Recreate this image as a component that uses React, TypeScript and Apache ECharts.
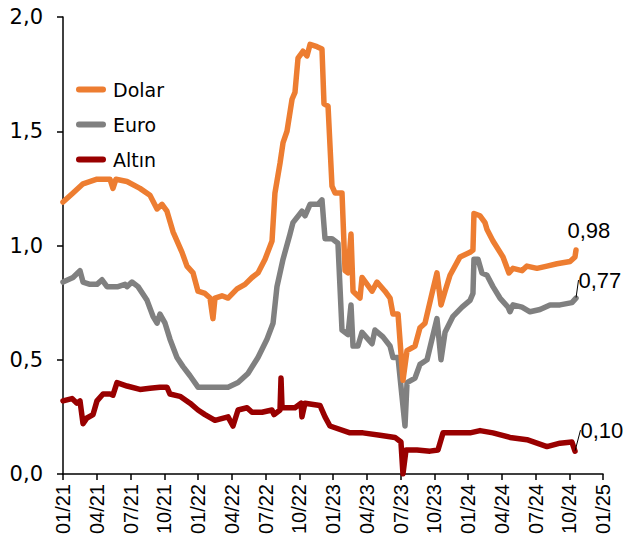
import React, { useEffect, useRef } from "react";
import * as echarts from "echarts";

// x values: months elapsed since 01/2021
const dolarT = [0, 0.89, 1.78, 3.02, 4.18, 4.44, 4.71, 5.69, 6.84, 7.73, 8.36, 8.8, 9.24, 9.78, 10.58, 11.02, 11.56, 12.0, 12.62, 13.07, 13.24, 13.33, 13.51, 14.13, 14.67, 15.47, 16.18, 16.8, 17.33, 17.96, 18.58, 18.84, 19.29, 19.56, 19.91, 20.36, 20.62, 20.89, 21.33, 21.69, 21.96, 22.58, 23.02, 23.2, 23.56, 23.91, 24.18, 24.8, 25.07, 25.33, 25.6, 25.78, 26.4, 26.58, 27.47, 27.91, 28.62, 29.07, 29.33, 29.78, 30.22, 30.58, 31.29, 31.73, 32.18, 32.8, 33.24, 33.6, 33.96, 34.4, 35.29, 36.18, 36.44, 36.53, 37.07, 37.51, 37.69, 38.22, 39.11, 39.64, 40.0, 40.8, 41.24, 42.13, 43.02, 43.91, 45.07, 45.51, 45.6];
const dolarV = [1.19, 1.23, 1.27, 1.29, 1.29, 1.25, 1.29, 1.28, 1.25, 1.22, 1.16, 1.18, 1.15, 1.06, 0.97, 0.91, 0.88, 0.8, 0.79, 0.77, 0.71, 0.68, 0.77, 0.78, 0.77, 0.81, 0.83, 0.86, 0.88, 0.94, 1.02, 1.23, 1.36, 1.45, 1.5, 1.64, 1.67, 1.82, 1.85, 1.83, 1.88, 1.87, 1.86, 1.62, 1.61, 1.26, 1.23, 1.23, 0.89, 0.88, 1.05, 0.8, 0.77, 0.86, 0.8, 0.84, 0.8, 0.77, 0.7, 0.7, 0.41, 0.54, 0.56, 0.64, 0.66, 0.79, 0.88, 0.74, 0.8, 0.87, 0.95, 0.97, 0.98, 1.14, 1.13, 1.1, 1.07, 1.02, 0.95, 0.88, 0.9, 0.89, 0.91, 0.9, 0.91, 0.92, 0.93, 0.95, 0.98];

const euroT = [0, 0.89, 1.51, 1.78, 2.4, 3.02, 3.47, 3.91, 4.89, 5.51, 5.69, 6.13, 6.67, 7.47, 8.0, 8.36, 8.62, 9.07, 9.51, 10.13, 10.67, 11.29, 12.0, 12.89, 13.78, 14.67, 15.56, 16.44, 17.33, 18.13, 18.67, 19.02, 19.56, 20.18, 20.44, 21.24, 21.51, 21.96, 22.67, 23.02, 23.29, 23.91, 24.44, 24.8, 25.33, 25.6, 25.78, 26.22, 26.58, 27.47, 27.73, 28.44, 29.07, 29.33, 29.78, 30.4, 30.58, 31.29, 31.73, 32.36, 33.24, 33.6, 33.96, 34.67, 35.47, 36.18, 36.44, 36.53, 36.89, 37.24, 37.69, 38.22, 38.84, 39.56, 39.73, 40.0, 40.8, 41.51, 42.4, 43.29, 44.18, 45.24, 45.6];
const euroV = [0.84, 0.86, 0.89, 0.84, 0.83, 0.83, 0.85, 0.82, 0.82, 0.83, 0.82, 0.84, 0.82, 0.76, 0.69, 0.66, 0.7, 0.66, 0.59, 0.51, 0.47, 0.43, 0.38, 0.38, 0.38, 0.38, 0.4, 0.44, 0.51, 0.59, 0.66, 0.82, 0.94, 1.05, 1.1, 1.15, 1.13, 1.18, 1.18, 1.2, 1.03, 1.03, 1.01, 0.63, 0.61, 0.74, 0.56, 0.56, 0.62, 0.57, 0.63, 0.6, 0.56, 0.51, 0.51, 0.21, 0.4, 0.42, 0.48, 0.5, 0.68, 0.5, 0.62, 0.69, 0.73, 0.76, 0.79, 0.94, 0.94, 0.88, 0.87, 0.82, 0.77, 0.73, 0.71, 0.74, 0.73, 0.71, 0.72, 0.74, 0.74, 0.75, 0.77];

const altinT = [0, 0.8, 1.24, 1.51, 1.78, 2.13, 2.67, 3.02, 3.56, 4.18, 4.44, 4.8, 5.69, 6.84, 7.73, 8.62, 9.24, 9.51, 10.4, 11.29, 12.0, 12.62, 13.51, 14.67, 15.11, 15.56, 16.36, 16.8, 17.69, 18.58, 18.76, 19.29, 19.38, 19.47, 20.62, 21.16, 21.24, 21.51, 22.84, 23.29, 23.73, 25.51, 26.67, 28.18, 29.51, 30.04, 30.22, 30.49, 31.47, 32.62, 33.33, 33.78, 35.02, 36.18, 37.07, 38.22, 39.73, 41.24, 43.02, 44.18, 45.24, 45.51];
const altinV = [0.32, 0.33, 0.31, 0.32, 0.22, 0.245, 0.26, 0.32, 0.35, 0.35, 0.345, 0.4, 0.385, 0.37, 0.375, 0.38, 0.38, 0.35, 0.34, 0.31, 0.28, 0.26, 0.235, 0.25, 0.21, 0.28, 0.29, 0.27, 0.27, 0.28, 0.26, 0.28, 0.42, 0.29, 0.29, 0.31, 0.25, 0.31, 0.3, 0.25, 0.21, 0.18, 0.18, 0.17, 0.16, 0.14, 0.0, 0.105, 0.105, 0.1, 0.105, 0.18, 0.18, 0.18, 0.19, 0.18, 0.16, 0.15, 0.12, 0.135, 0.14, 0.1];

const seriesNames = ["Dolar", "Euro", "Altın"];
const seriesColors = ["#ED7D31", "#808080", "#990000"];

const pill = "path://M3,0 H27 A3,3 0 0 1 27,6 H3 A3,3 0 0 1 3,0 Z";

function fmtComma(v: number, d: number) {
  return v.toFixed(d).replace(".", ",");
}

function buildData(t: number[], v: number[]) {
  return t.map((x, i) => {
    if (i === t.length - 1) {
      return {
        value: [x, v[i]],
        symbol: "circle",
        symbolSize: 1,
        itemStyle: { color: "rgba(0,0,0,0)" },
        label: { show: true, formatter: fmtComma(v[i], 2), color: "#000" },
      };
    }
    return [x, v[i]];
  });
}

export default function App() {
  const ref = useRef<HTMLDivElement>(null);
  useEffect(() => {
    if (!ref.current) return;
    const chart = echarts.init(ref.current, undefined, { renderer: "svg" });
    const sets = [
      { t: dolarT, v: dolarV, dx: -9, dy: -20, line: false },
      { t: euroT, v: euroV, dx: 2, dy: -18, line: true },
      { t: altinT, v: altinV, dx: 5, dy: -21, line: true },
    ];
    chart.setOption({
      animation: false,
      grid: { left: 63, right: 39, top: 17, bottom: 79, containLabel: false },
      legend: {
        orient: "vertical",
        left: 71,
        top: 75,
        itemGap: 16,
        itemWidth: 30,
        itemHeight: 6,
        icon: pill,
        data: seriesNames,
        textStyle: {
          fontFamily: "DejaVu Sans",
          fontSize: 19,
          color: "#000",
          padding: [0, 0, 0, 2],
        },
      },
      xAxis: {
        type: "value",
        min: 0,
        max: 48,
        interval: 3,
        axisLine: { show: true, onZero: false, lineStyle: { color: "#000", width: 1.5 } },
        axisTick: { show: true, length: 6, lineStyle: { color: "#000", width: 1.5 } },
        splitLine: { show: false },
        axisLabel: {
          rotate: 90,
          margin: 10,
          fontFamily: "Liberation Sans",
          fontSize: 20,
          color: "#000",
          formatter: (m: number) => {
            const mm = (Math.round(m) % 12) + 1;
            const yy = 21 + Math.floor(Math.round(m) / 12);
            return (mm < 10 ? "0" + mm : "" + mm) + "/" + yy;
          },
        },
      },
      yAxis: {
        type: "value",
        min: 0,
        max: 2,
        interval: 0.5,
        axisLine: { show: true, lineStyle: { color: "#000", width: 1.5 } },
        axisTick: { show: true, length: 6, lineStyle: { color: "#000", width: 1.5 } },
        splitLine: { show: false },
        axisLabel: {
          margin: 20,
          fontFamily: "DejaVu Sans",
          fontSize: 21,
          color: "#000",
          formatter: (v: number) => fmtComma(v, 1),
        },
      },
      series: sets.map((s, i) => ({
        name: seriesNames[i],
        type: "line",
        data: buildData(s.t, s.v),
        symbol: "none",
        showSymbol: true,
        color: seriesColors[i],
        lineStyle: { width: 5.5, color: seriesColors[i], cap: "round", join: "round" },
        label: {
          show: false,
          position: "right",
          distance: 0,
          fontFamily: "Liberation Sans",
          fontSize: 22,
          color: "#000",
        },
        labelLayout: { dx: s.dx, dy: s.dy },
        labelLine: { show: s.line, lineStyle: { color: "#000", width: 1 } },
        z: 3 - i,
      })),
    });
    return () => chart.dispose();
  }, []);
  return <div ref={ref} style={{ width: 642, height: 553, marginLeft: -8, marginTop: -8 }} />;
}
